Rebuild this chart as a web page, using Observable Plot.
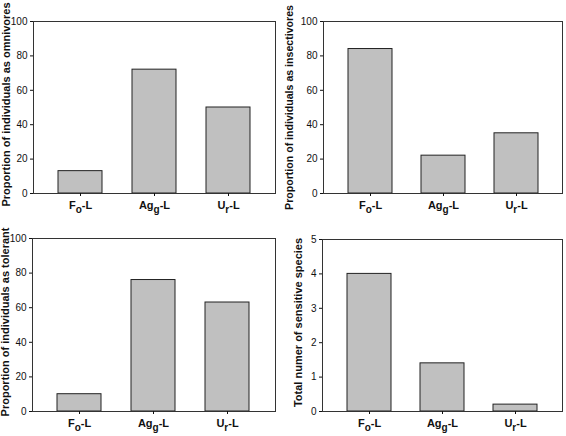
<!DOCTYPE html>
<html>
<head>
<meta charset="utf-8">
<script src="https://cdn.jsdelivr.net/npm/d3@7"></script>
<script src="https://cdn.jsdelivr.net/npm/@observablehq/plot@0.6"></script>
<style>
  body { margin: 0; background: white; }
  #wrap { position: relative; width: 566px; height: 436px; background: white; }
  #wrap > div { position: absolute; }
  #wrap svg { overflow: visible; }
</style>
</head>
<body>
<div id="wrap"></div>
<script>
// Categories (main letter, subscript, suffix)
const categories = ["Fo-L", "Agg-L", "Ur-L"];
const catMain = ["F", "Ag", "U"];
const catSub = ["o", "g", "r"];
const catSuffix = ["-L", "-L", "-L"];

// Series values
const omnivores = [13, 72, 50];
const insectivores = [84, 22, 35];
const tolerant = [10, 76, 63];
const sensitive = [4, 1.4, 0.2];

// Tick labels
const pctTicks = [0, 20, 40, 60, 80, 100];
const countTicks = [0, 1, 2, 3, 4, 5];

// Axis titles
const yLabels = [
  "Proportion of individuals as omnivores",
  "Proportion of individuals as insectivores",
  "Proportion of individuals as tolerant",
  "Total numer of sensitive species"
];

const panels = [
  {values: omnivores, ticks: pctTicks, domain: [0, 100], label: yLabels[0], left: 0, top: 0, ml: 33, mr: 8, mt: 21, mb: 25, lx: 6, ldy: -3, lfs: 11},
  {values: insectivores, ticks: pctTicks, domain: [0, 100], label: yLabels[1], left: 283, top: 0, ml: 40, mr: 4, mt: 21, mb: 25, lx: 6, ldy: 0, lfs: 10.6},
  {values: tolerant, ticks: pctTicks, domain: [0, 100], label: yLabels[2], left: 0, top: 218, ml: 32, mr: 8, mt: 20, mb: 25, lx: 5, ldy: -3, lfs: 11},
  {values: sensitive, ticks: countTicks, domain: [0, 5], label: yLabels[3], left: 283, top: 218, ml: 39, mr: 4, mt: 21, mb: 25, lx: 15, ldy: -3, lfs: 11}
];

const wrap = document.getElementById("wrap");

for (const p of panels) {
  const data = categories.map((c, i) => ({cat: c, v: p.values[i]}));
  const svg = Plot.plot({
    width: 283,
    height: 218,
    marginLeft: p.ml,
    marginRight: p.mr,
    marginTop: p.mt,
    marginBottom: p.mb,
    style: {fontFamily: "'Liberation Sans', Arial, sans-serif", fontSize: "10px", background: "transparent", color: "#111", overflow: "visible"},
    x: {type: "band", domain: categories, paddingInner: 0.4, paddingOuter: 0.33, label: null},
    y: {domain: p.domain, label: null},
    marks: [
      Plot.barY(data, {x: "cat", y: "v", fill: "#c0c0c0", stroke: "#222", strokeWidth: 1}),
      Plot.frame({stroke: "#333", strokeWidth: 1}),
      Plot.axisY({ticks: p.ticks, tickFormat: d3.format("d"), tickSize: 3, tickPadding: 3, label: null, fontSize: 10}),
      Plot.axisX({tickSize: 3, tickPadding: 5, label: null, fontSize: 11, fontWeight: "bold"}),
      Plot.text([p.label], {text: d => d, frameAnchor: "left", textAnchor: "middle", rotate: -90, dx: -(p.ml - p.lx), dy: p.ldy, fontWeight: "bold", fontSize: p.lfs})
    ]
  });
  // subscripts on x tick labels
  d3.select(svg).selectAll('g[aria-label="x-axis tick label"] text').each(function(d, i) {
    const t = d3.select(this);
    const idx = categories.indexOf(this.textContent);
    const k = idx >= 0 ? idx : i;
    t.text(null);
    t.append("tspan").text(catMain[k]);
    t.append("tspan").attr("dy", "0.35em").attr("font-size", 10).text(catSub[k]);
    t.append("tspan").attr("dy", "-0.35em").text(catSuffix[k]);
  });
  const div = document.createElement("div");
  div.style.left = p.left + "px";
  div.style.top = p.top + "px";
  div.appendChild(svg);
  wrap.appendChild(div);
}
</script>
</body>
</html>
